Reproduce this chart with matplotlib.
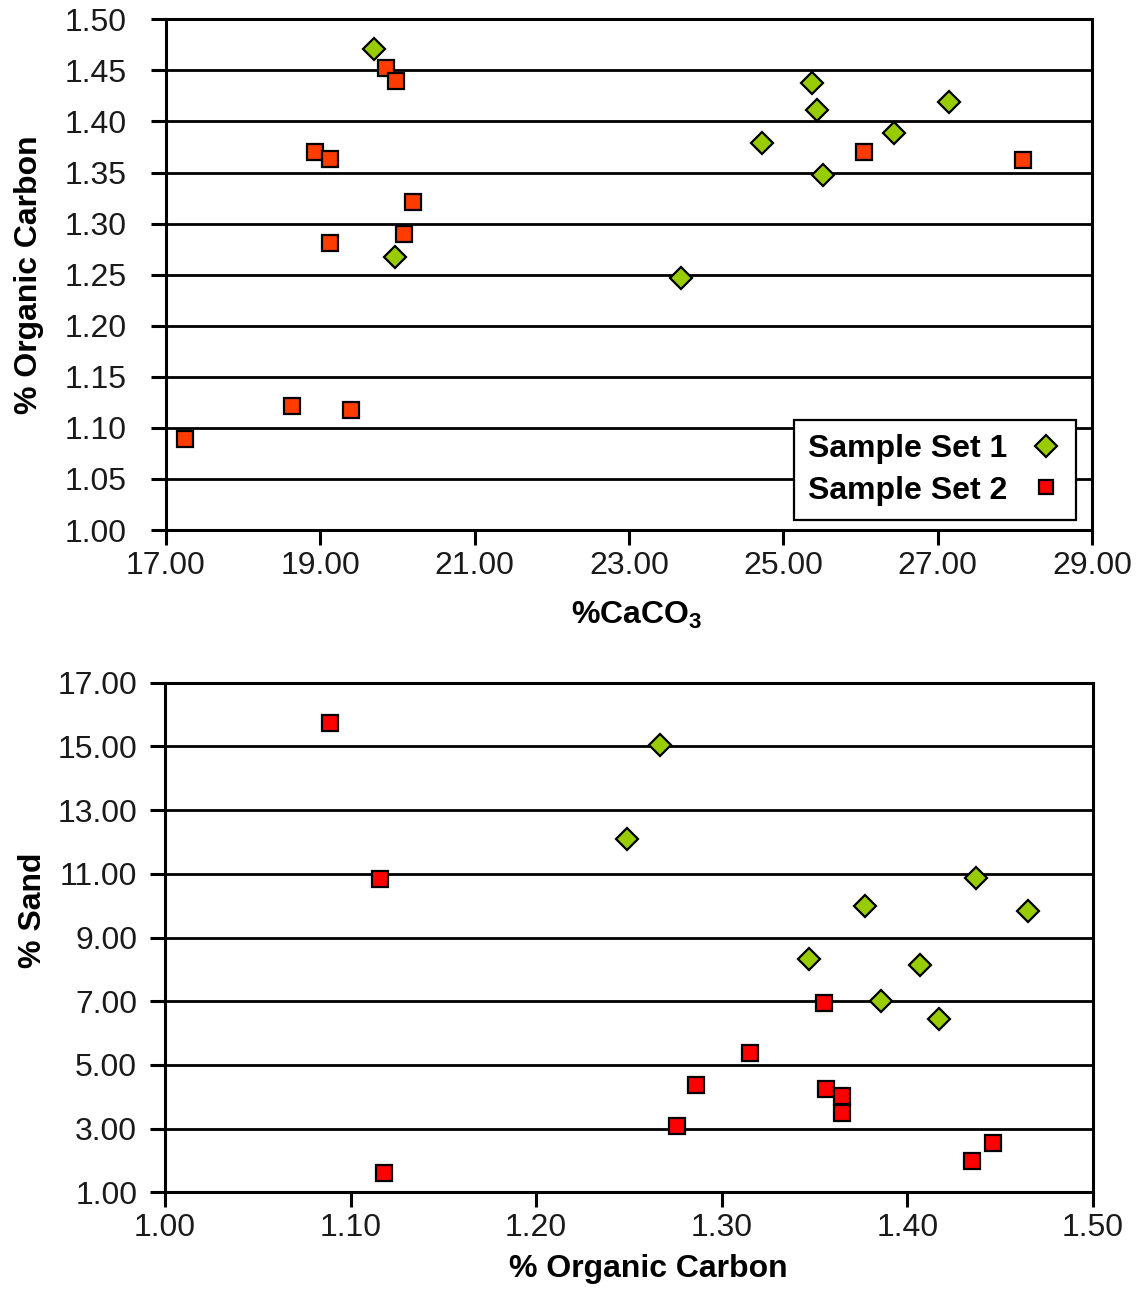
import matplotlib
matplotlib.use('Agg')
import numpy as np
import matplotlib.pyplot as plt
from matplotlib.lines import Line2D
from matplotlib.ticker import FormatStrFormatter

plt.rcParams['font.family'] = ['Liberation Sans', 'DejaVu Sans']
plt.rcParams['mathtext.fontset'] = 'custom'
plt.rcParams['mathtext.rm'] = 'Liberation Sans'
plt.rcParams['mathtext.bf'] = 'Liberation Sans:bold'

# top chart: %CaCO3 vs % organic carbon
caco3_set1 = [19.69, 19.97, 23.67, 24.72, 25.37, 25.44, 25.51, 26.44, 27.15]
oc_set1_top = [1.471, 1.267, 1.247, 1.379, 1.438, 1.411, 1.348, 1.389, 1.419]
caco3_set2 = [19.85, 19.98, 18.93, 19.13, 20.20, 20.08, 19.12, 18.63, 19.40, 17.25, 26.05, 28.10]
oc_set2_top = [1.452, 1.440, 1.370, 1.363, 1.321, 1.290, 1.281, 1.121, 1.118, 1.089, 1.370, 1.362]

# bottom chart: % organic carbon vs % sand
oc_set1 = [1.267, 1.249, 1.437, 1.377, 1.465, 1.347, 1.407, 1.386, 1.417]
sand_set1 = [15.04, 12.09, 10.86, 10.00, 9.84, 8.32, 8.14, 7.01, 6.43]
oc_set2 = [1.089, 1.116, 1.118, 1.355, 1.315, 1.286, 1.356, 1.365, 1.365, 1.276, 1.446, 1.435]
sand_set2 = [15.73, 10.84, 1.615, 6.95, 5.38, 4.37, 4.24, 4.02, 3.48, 3.08, 2.54, 1.98]

labels = ['Sample Set 1', 'Sample Set 2']
caco3_ticks = np.arange(17, 29.5, 2)
oc_ticks_top = np.arange(1.0, 1.501, 0.05)
oc_ticks = np.arange(1.0, 1.501, 0.1)
sand_ticks = np.arange(1, 17.5, 2)

GREEN = '#99CC00'
ORANGE = '#FF3C00'
RED = '#FF0000'
FS = 23

fig = plt.figure(figsize=(11.4, 12.89), dpi=100)
ax1 = fig.add_axes([0.1456, 0.5888, 0.8123, 0.3962])
ax2 = fig.add_axes([0.1447, 0.0750, 0.8140, 0.3953])


def style(ax, ypad):
	ax.set_axisbelow(True)
	ax.grid(axis='y', color='black', linewidth=2.0)
	for s in ax.spines.values():
		s.set_linewidth(2.2)
		s.set_color('black')
	ax.tick_params(axis='both', direction='out', length=11, width=2.2,
		labelsize=FS, colors='black', labelcolor='#1a1a1a')
	ax.tick_params(axis='y', pad=ypad)
	ax.tick_params(axis='x', pad=4)
	ax.xaxis.set_major_formatter(FormatStrFormatter('%.2f'))
	ax.yaxis.set_major_formatter(FormatStrFormatter('%.2f'))


ax1.plot(caco3_set1, oc_set1_top, 'D', ms=11, mfc=GREEN, mec='black', mew=1.6, zorder=3)
ax1.plot(caco3_set2, oc_set2_top, 's', ms=11, mfc=ORANGE, mec='black', mew=1.6, zorder=3)
ax1.set_xticks(caco3_ticks)
ax1.set_yticks(oc_ticks_top)
ax1.set_xlim(17, 29)
ax1.set_ylim(1.0, 1.5)
style(ax1, 17)
ax1.set_xlabel(r'%CaCO$_\mathbf{3}$', fontsize=FS, fontweight='bold')
ax1.set_ylabel('% Organic Carbon', fontsize=FS, fontweight='bold')
ax1.xaxis.set_label_coords(0.508, -0.137)
ax1.yaxis.set_label_coords(-0.132, 0.5)

handles = [
	Line2D([], [], ls='none', marker='D', ms=11, mfc=GREEN, mec='black', mew=1.6),
	Line2D([], [], ls='none', marker='s', ms=10, mfc=RED, mec='black', mew=1.6),
]
leg = ax1.legend(handles, labels, loc='lower right', bbox_to_anchor=(0.9827, 0.0196),
	borderaxespad=0, frameon=True, fancybox=False, edgecolor='black', framealpha=1,
	markerfirst=False, handlelength=1.0, handletextpad=0.7, borderpad=0.45,
	labelspacing=0.35, prop={'size': FS, 'weight': 'bold'})
leg.get_frame().set_linewidth(1.6)

ax2.plot(oc_set1, sand_set1, 'D', ms=11, mfc=GREEN, mec='black', mew=1.6, zorder=3)
ax2.plot(oc_set2, sand_set2, 's', ms=11, mfc=RED, mec='black', mew=1.6, zorder=3)
ax2.set_xticks(oc_ticks)
ax2.set_yticks(sand_ticks)
ax2.set_xlim(1.0, 1.5)
ax2.set_ylim(1, 17)
style(ax2, 9)
ax2.set_xlabel('% Organic Carbon', fontsize=FS, fontweight='bold')
ax2.set_ylabel('% Sand', fontsize=FS, fontweight='bold')
ax2.xaxis.set_label_coords(0.5205, -0.121)
ax2.yaxis.set_label_coords(-0.1255, 0.554)

fig.savefig('out.png', dpi=100)
